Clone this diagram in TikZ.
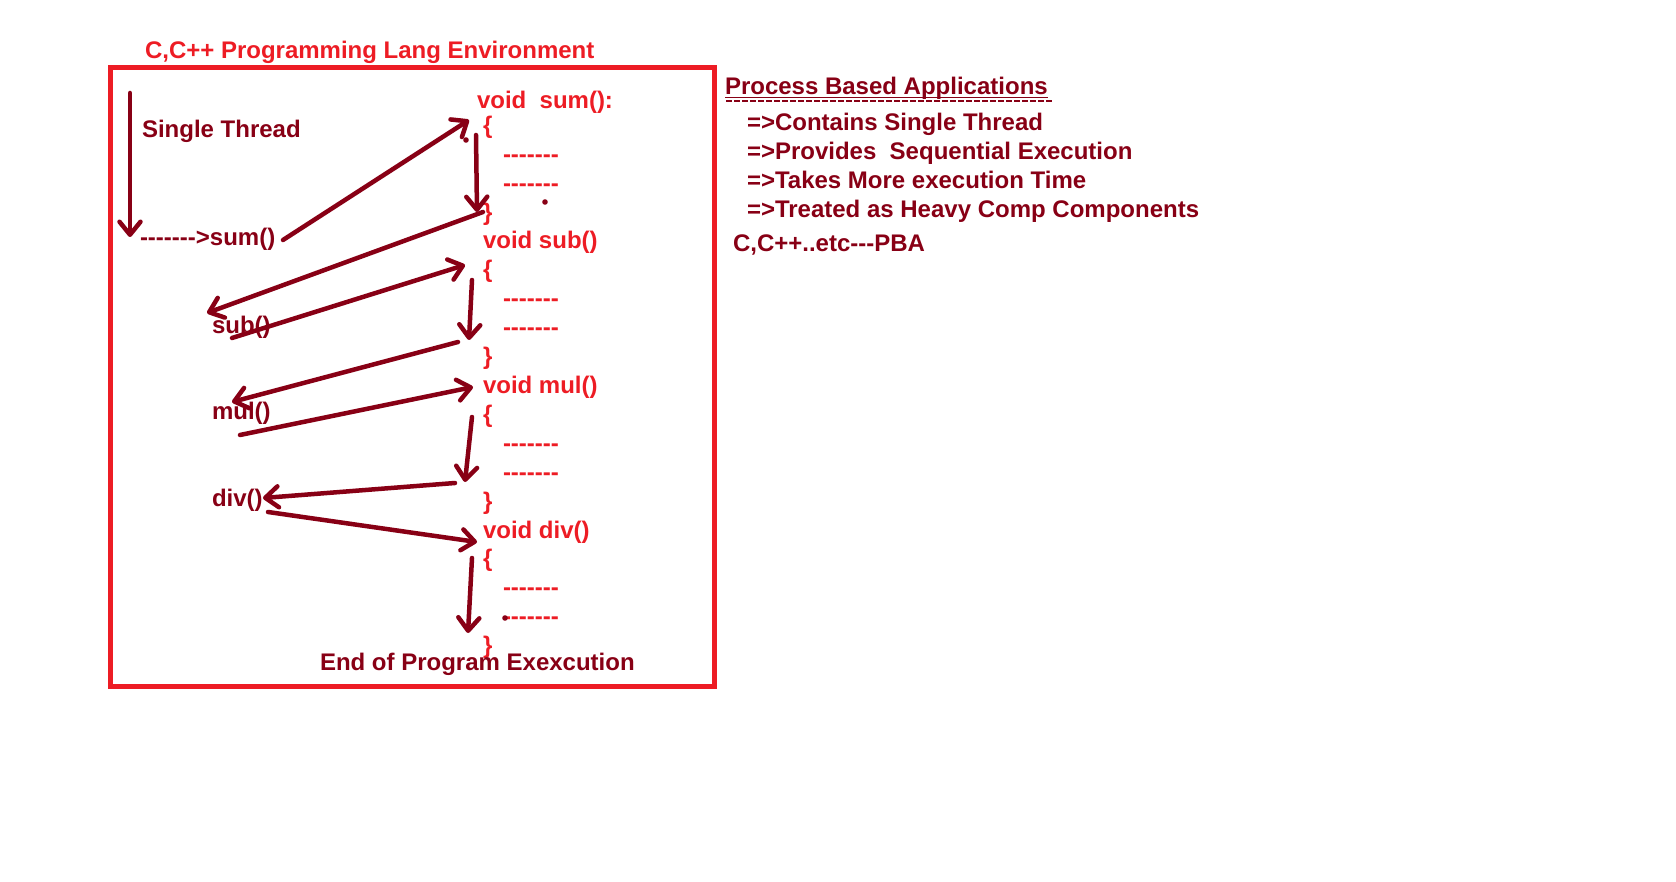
\documentclass[tikz,border=0pt]{standalone}
\usepackage{fontspec}
\newfontfamily\af{Liberation Sans}
\usetikzlibrary{arrows.meta}
\definecolor{pred}{RGB}{237,28,36}
\definecolor{pdark}{RGB}{136,0,21}
\tikzset{
  txt/.style={font=\af\bfseries\fontsize{24}{28.8}\selectfont, anchor=base west, inner sep=0pt, outer sep=0pt},
  dk/.style={txt, text=pdark},
  rd/.style={txt, text=pred},
  arr/.style={draw=pdark, line width=4.5pt, line cap=round, -{Straight Barb[length=13pt,width=21pt,round]}},
  dotm/.style={fill=pdark}
}
\begin{document}
\begin{tikzpicture}[x=1pt,y=-1pt]
\useasboundingbox (0,0) rectangle (1676,882);
% frame
\draw[pred, line width=5pt] (110.5,67.5) rectangle (714,686);
\node[rd] (title) at (145,58.5) {C,C++ Programming Lang Environment};
% left labels
\node[dk] (single) at (142,138) {Single Thread};
\node[dk] (sumcall) at (140,246) {------->sum()};
\node[dk] (subcall) at (212,334) {sub()};
\node[dk] (mulcall) at (212,420) {mul()};
\node[dk] (divcall) at (212,506) {div()};
% code column
\node[rd] (vsum) at (477,109) {void~~sum():};
\node[rd] (ob1) at (483,133.5) {\{};
\node[rd] (d1a) at (503,162.3) {-------};
\node[rd] (d1b) at (503,191.2) {-------};
\node[rd] (cb1) at (483,220.1) {\}};
\node[rd] (vsub) at (483,249) {void sub()};
\node[rd] (ob2) at (483,277.9) {\{};
\node[rd] (d2a) at (503,306.8) {-------};
\node[rd] (d2b) at (503,335.7) {-------};
\node[rd] (cb2) at (483,364.6) {\}};
\node[rd] (vmul) at (483,393.5) {void mul()};
\node[rd] (ob3) at (483,422.4) {\{};
\node[rd] (d3a) at (503,451.3) {-------};
\node[rd] (d3b) at (503,480.2) {-------};
\node[rd] (cb3) at (483,509.1) {\}};
\node[rd] (vdiv) at (483,538) {void div()};
\node[rd] (ob4) at (483,566.9) {\{};
\node[rd] (d4a) at (503,595.8) {-------};
\node[rd] (d4b) at (503,624.7) {-------};
\node[rd] (cb4) at (483,653.6) {\}};
\node[dk] (endp) at (320,670) {End of Program Exexcution};
% dots
\fill[dotm] (466,140) circle (2.8);
\fill[dotm] (545,202) circle (2.8);
\fill[dotm] (505,618) circle (2.8);
% right side
\node[dk] (pba) at (725,95) {Process Based Applications};
\node[dk] (p1) at (747,131) {=>Contains Single Thread};
\node[dk] (p2) at (747,159.5) {=>Provides~~Sequential Execution};
\node[dk] (p3) at (747,189) {=>Takes More execution Time};
\node[dk] (p4) at (747,218) {=>Treated as Heavy Comp Components};
\node[dk] (p5) at (733,251.5) {C,C++..etc---PBA};
\coordinate (ulA) at (725,97.5);
\coordinate (ulB) at (1048,97.5);
\coordinate (dlA) at (726,101);
\coordinate (dlB) at (1053,101);
\draw[pdark, line width=1.8pt] (ulA) -- (ulB);
\draw[pdark, line width=2.6pt, dash pattern=on 6pt off 2pt] (dlA) -- (dlB);
% arrow end points
\coordinate (a1s) at (130,93);   \coordinate (a1e) at (130,237);
\coordinate (a2s) at (283,240);  \coordinate (a2e) at (469,120);
\coordinate (a3s) at (476,135);  \coordinate (a3e) at (477,212);
\coordinate (a4s) at (483,212);  \coordinate (a4e) at (207,313);
\coordinate (a5s) at (232,338);  \coordinate (a5e) at (465,265);
\coordinate (a6s) at (472,280);  \coordinate (a6e) at (469,340);
\coordinate (a7s) at (458,342);  \coordinate (a7e) at (232,402);
\coordinate (a8s) at (240,435);  \coordinate (a8e) at (473,387);
\coordinate (a9s) at (472,417);  \coordinate (a9e) at (465,482);
\coordinate (a10s) at (455,483); \coordinate (a10e) at (263,498);
\coordinate (a11s) at (268,512); \coordinate (a11e) at (477,542);
\coordinate (a12s) at (472,558); \coordinate (a12e) at (468,633);
\draw[arr] (a1s) -- (a1e);
\draw[arr] (a2s) -- (a2e);
\draw[arr] (a3s) -- (a3e);
\draw[arr] (a4s) -- (a4e);
\draw[arr] (a5s) -- (a5e);
\draw[arr] (a6s) -- (a6e);
\draw[arr] (a7s) -- (a7e);
\draw[arr] (a8s) -- (a8e);
\draw[arr] (a9s) -- (a9e);
\draw[arr] (a10s) -- (a10e);
\draw[arr] (a11s) -- (a11e);
\draw[arr] (a12s) -- (a12e);
\end{tikzpicture}
\end{document}
